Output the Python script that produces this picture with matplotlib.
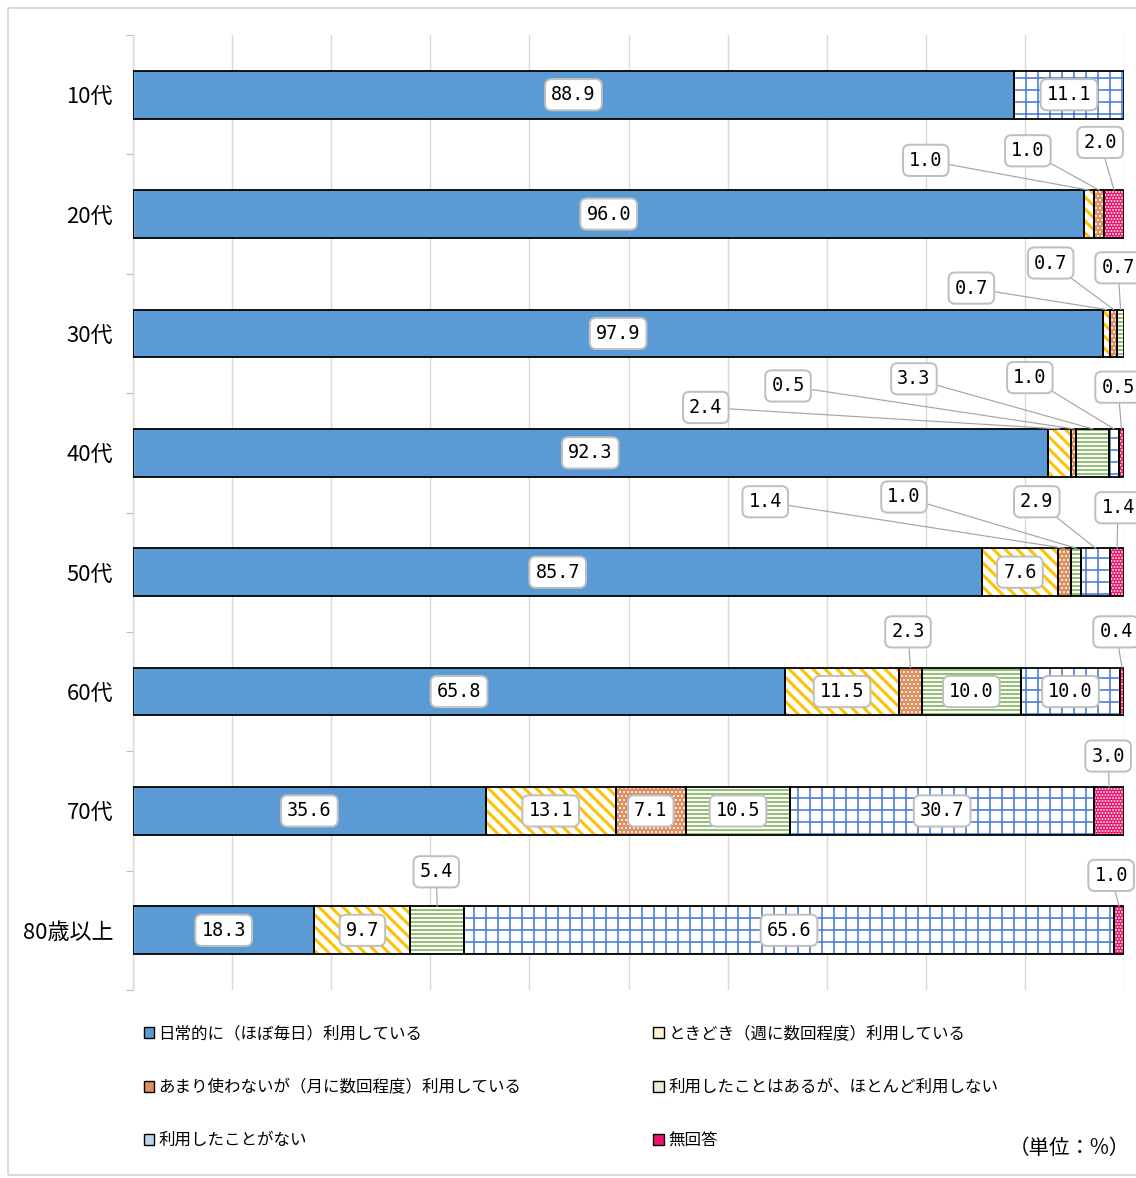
import numpy as np
import matplotlib
matplotlib.use("Agg")
import matplotlib.pyplot as plt
from matplotlib.patches import Rectangle, Patch

plt.rcParams['font.family'] = ['Noto Sans CJK JP', 'DejaVu Sans']
plt.rcParams['hatch.linewidth'] = 1.5

# データ
ages = ["10代", "20代", "30代", "40代", "50代", "60代", "70代", "80歳以上"]
series = ["日常的に（ほぼ毎日）利用している",
          "ときどき（週に数回程度）利用している",
          "あまり使わないが（月に数回程度）利用している",
          "利用したことはあるが、ほとんど利用しない",
          "利用したことがない",
          "無回答"]
daily     = [88.9, 96.0, 97.9, 92.3, 85.7, 65.8, 35.6, 18.3]
sometimes = [0.0, 1.0, 0.7, 2.4, 7.6, 11.5, 13.1, 9.7]
rarely    = [0.0, 1.0, 0.7, 0.5, 1.4, 2.3, 7.1, 0.0]
hardly    = [0.0, 0.0, 0.7, 3.3, 1.0, 10.0, 10.5, 5.4]
never     = [11.1, 0.0, 0.0, 1.0, 2.9, 10.0, 30.7, 65.6]
no_answer = [0.0, 2.0, 0.0, 0.5, 1.4, 0.4, 3.0, 1.0]
values = [daily, sometimes, rarely, hardly, never, no_answer]

# 吹き出し位置 (年代, 系列) -> (x, yずれ)
callouts = {
    (1, 1): (80.0, -0.45), (1, 2): (90.3, -0.53), (1, 5): (97.6, -0.60),
    (2, 1): (84.6, -0.38), (2, 2): (92.6, -0.59), (2, 3): (99.4, -0.55),
    (3, 1): (57.8, -0.38), (3, 2): (66.1, -0.56), (3, 3): (78.8, -0.62),
    (3, 4): (90.5, -0.63), (3, 5): (99.4, -0.55),
    (4, 2): (63.8, -0.59), (4, 3): (77.8, -0.63), (4, 4): (91.2, -0.59),
    (4, 5): (99.4, -0.54),
    (5, 2): (78.2, -0.50), (5, 5): (99.2, -0.50),
    (6, 5): (98.4, -0.46),
    (7, 3): (30.6, -0.49), (7, 5): (98.7, -0.46),
}

# スタイル (facecolor, hatch, hatchcolor, hatch線幅)
styles = [
    ("#5B9BD5", None, "#5B9BD5", 1.0),
    ("white", "\\\\", "#FFC000", 3.0),
    ("#E0905E", "...", "white", 1.2),
    ("white", "---", "#70AD47", 1.5),
    ("white", "+", "#4A7BD0", 1.6),
    ("#F0146C", "....", "white", 1.2),
]

# 72dpi で描くと hatch の間隔が 1単位=72px になる
W, H = 1136, 1178
fig = plt.figure(figsize=(W / 72, H / 72), dpi=72)
fig.patches.append(Rectangle((8 / W, 3 / H), 1.2, 1 - 11 / H, transform=fig.transFigure,
                             fill=False, edgecolor="#D0D0D0", lw=1.5))
ax = fig.add_axes([133 / W, 1 - 990 / H, 991 / W, 955 / H])

y = np.arange(len(ages))
bh = 0.4
left = np.zeros(len(ages))
box = dict(boxstyle="round,pad=0.33,rounding_size=0.35", fc="white", ec="#BFBFBF", lw=2.0)

for s, vals in enumerate(values):
    vals = np.array(vals)
    fc, hatch, hc, hlw = styles[s]
    for i in range(len(ages)):
        v = vals[i]
        if v <= 0:
            continue
        b = ax.barh(y[i], v, left=left[i], height=bh, color=fc, hatch=hatch,
                    edgecolor=hc, linewidth=0, zorder=2)
        if hatch is not None:
            for p in b:
                if hasattr(p, "set_hatch_linewidth"):
                    p.set_hatch_linewidth(hlw)
        ax.barh(y[i], v, left=left[i], height=bh, fill=False, edgecolor="black",
                linewidth=1.8, zorder=3)
        label = f"{v:.1f}"
        if (i, s) in callouts:
            tx, dy = callouts[(i, s)]
            ax.annotate(label, xy=(left[i] + v / 2, y[i] - bh / 2), xytext=(tx, y[i] + dy),
                        ha="center", va="center", fontsize=18.5, family="DejaVu Sans Mono",
                        bbox=box, zorder=5, annotation_clip=False,
                        arrowprops=dict(arrowstyle="-", color="#A6A6A6", lw=1.2,
                                        shrinkA=0, shrinkB=0))
        else:
            ax.text(left[i] + v / 2, y[i], label, ha="center", va="center",
                    fontsize=18.5, family="DejaVu Sans Mono", bbox=box, zorder=5)
    left += vals

ax.set_xlim(0, 100)
ax.set_ylim(len(ages) - 0.5, -0.5)
ax.set_xticks(np.arange(0, 101, 10))
ax.tick_params(axis="x", length=0, labelbottom=False)
ax.grid(axis="x", color="#D9D9D9", lw=1.4, zorder=0)
ax.set_yticks(y)
ax.set_yticklabels(ages, fontsize=22)
ax.set_yticks(np.arange(-0.5, len(ages)), minor=True)
ax.tick_params(axis="y", which="major", length=0, pad=20)
ax.tick_params(axis="y", which="minor", length=7, width=1.2, color="#BFBFBF")
for sp in ["top", "right", "bottom"]:
    ax.spines[sp].set_visible(False)
ax.spines["left"].set_color("#D9D9D9")
ax.spines["left"].set_linewidth(1.4)

# 凡例
legend_fc = ["#5B9BD5", "#FFF2CC", "#E0905E", "#E2EFD9", "#BDD7EE", "#F0146C"]
handles = [Patch(facecolor=c, edgecolor="black", lw=1.4) for c in legend_fc]
order = [0, 2, 4, 1, 3, 5]
fig.legend([handles[k] for k in order], [series[k] for k in order], ncol=2,
           loc="upper left", bbox_to_anchor=(137 / W, 1 - 1019 / H), frameon=False,
           fontsize=16.5, handlelength=0.65, handleheight=0.65, handletextpad=0.25,
           labelspacing=2.2, columnspacing=8.0, borderaxespad=0)

fig.text(1130 / W, 1 - 1148 / H, "（単位：%）", ha="right", va="center", fontsize=20.5)

fig.savefig("out.png", dpi=72)
